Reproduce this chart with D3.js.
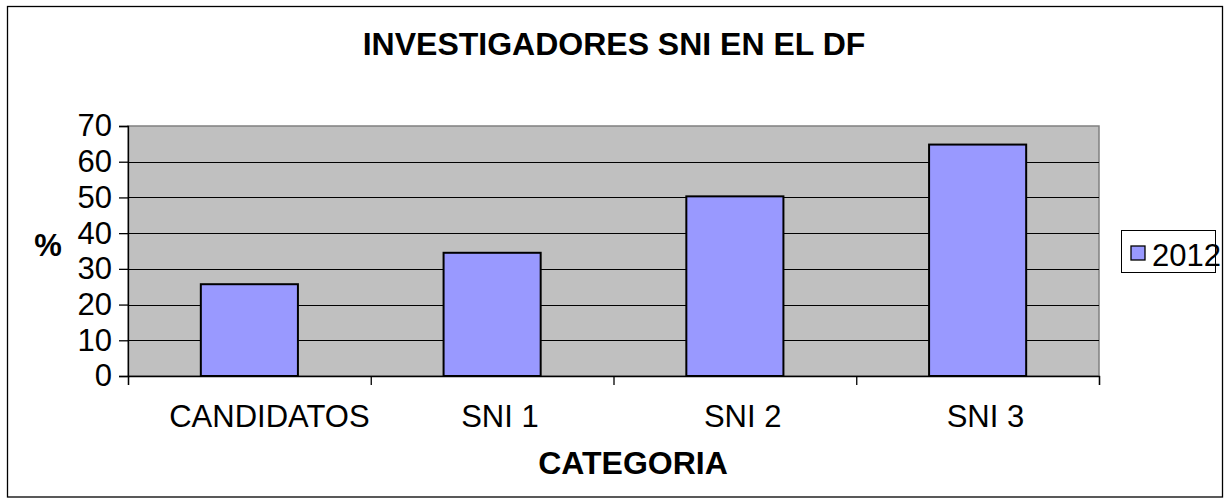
<!DOCTYPE html>
<html>
<head>
<meta charset="utf-8">
<script src="https://cdn.jsdelivr.net/npm/d3@7"></script>
<style>
  body { margin: 0; background: #fff; }
  svg { display: block; font-family: "Liberation Sans", Arial, sans-serif; }
</style>
</head>
<body>
<svg></svg>
<script>
  // datos
  let categorias = ['CANDIDATOS', 'SNI 1', 'SNI 2', 'SNI 3']
  let valores2012 = [25.7, 34.5, 50.3, 64.8]
  let serie = '2012'
  let yTicks = [0, 10, 20, 30, 40, 50, 60, 70]

  let svgWidth = 1225, svgHeight = 503
  let plotLeft = 128, plotRight = 1099, plotTop = 126, plotBottom = 376

  let svg = d3.select('svg')
    .attr('width', svgWidth)
    .attr('height', svgHeight)

  // marco exterior
  svg.append('rect')
    .attr('x', 7.5).attr('y', 6.5)
    .attr('width', 1215).attr('height', 490.5)
    .attr('fill', '#fff').attr('stroke', '#000').attr('stroke-width', 1.3)

  let x = d3.scaleBand()
    .domain(categorias)
    .range([plotLeft, plotRight])
    .paddingInner(0.6)
    .paddingOuter(0.3)

  let y = d3.scaleLinear()
    .domain([0, 70])
    .range([plotBottom, plotTop])

  // area del grafico
  svg.append('rect')
    .attr('x', plotLeft).attr('y', plotTop)
    .attr('width', plotRight - plotLeft).attr('height', plotBottom - plotTop)
    .attr('fill', '#c0c0c0').attr('stroke', '#808080').attr('stroke-width', 1.5)

  // lineas de division
  svg.selectAll('.grid')
    .data(yTicks.slice(1, -1))
    .enter()
    .append('line')
    .attr('class', 'grid')
    .attr('x1', plotLeft).attr('x2', plotRight)
    .attr('y1', d => Math.round(y(d)) + 0.5)
    .attr('y2', d => Math.round(y(d)) + 0.5)
    .attr('stroke', '#000').attr('stroke-width', 1.2)

  // barras
  svg.selectAll('.bar')
    .data(valores2012)
    .enter()
    .append('rect')
    .attr('class', 'bar')
    .attr('x', (d, i) => x(categorias[i]))
    .attr('y', d => y(d))
    .attr('width', x.bandwidth())
    .attr('height', d => y(0) - y(d))
    .attr('fill', '#9999ff')
    .attr('stroke', '#000')
    .attr('stroke-width', 2)

  // eje y
  let yAxis = svg.append('g')
    .attr('transform', `translate(${plotLeft},0)`)
    .call(d3.axisLeft(y).tickValues(yTicks).tickSize(9).tickPadding(7))
  yAxis.selectAll('text').attr('font-size', 31).attr('fill', '#000')
    .attr('font-family', '"Liberation Sans", Arial, sans-serif')
  yAxis.selectAll('line, path').attr('stroke', '#000').attr('stroke-width', 1.3)

  // eje x: marcas entre categorias
  let xEdges = d3.scaleLinear().domain([0, categorias.length]).range([plotLeft, plotRight])
  let xAxis = svg.append('g')
    .attr('transform', `translate(0,${plotBottom})`)
    .call(d3.axisBottom(xEdges).ticks(categorias.length).tickFormat('').tickSize(9))
  xAxis.selectAll('line, path').attr('stroke', '#000').attr('stroke-width', 1.3)

  let xLabels = svg.append('g')
    .attr('transform', `translate(0,${plotBottom})`)
    .call(d3.axisBottom(x).tickSize(0))
  xLabels.select('.domain').remove()
  xLabels.selectAll('text')
    .attr('y', 51).attr('dy', null)
    .attr('font-size', 31).attr('fill', '#000')
    .attr('font-family', '"Liberation Sans", Arial, sans-serif')
    // las etiquetas del original quedan algo corridas a la derecha
    .attr('dx', function () { return this.getComputedTextLength() * 0.1 })

  // titulos
  svg.append('text')
    .attr('x', 614).attr('y', 55)
    .attr('text-anchor', 'middle')
    .attr('font-size', 32).attr('font-weight', 'bold')
    .text('INVESTIGADORES SNI EN EL DF')

  svg.append('text')
    .attr('x', 633).attr('y', 474)
    .attr('text-anchor', 'middle')
    .attr('font-size', 32).attr('font-weight', 'bold')
    .text('CATEGORIA')

  svg.append('text')
    .attr('x', 48).attr('y', 256)
    .attr('text-anchor', 'middle')
    .attr('font-size', 31).attr('font-weight', 'bold')
    .text('%')

  // leyenda
  let legend = svg.append('g')
  legend.append('rect')
    .attr('x', 1121.5).attr('y', 230.5)
    .attr('width', 94).attr('height', 42)
    .attr('fill', '#fff').attr('stroke', '#000').attr('stroke-width', 1)
  legend.append('rect')
    .attr('x', 1131).attr('y', 246)
    .attr('width', 14).attr('height', 14)
    .attr('fill', '#9999ff').attr('stroke', '#000').attr('stroke-width', 1.3)
  legend.append('text')
    .attr('x', 1152).attr('y', 266)
    .attr('font-size', 31)
    .text(serie)
</script>
</body>
</html>
